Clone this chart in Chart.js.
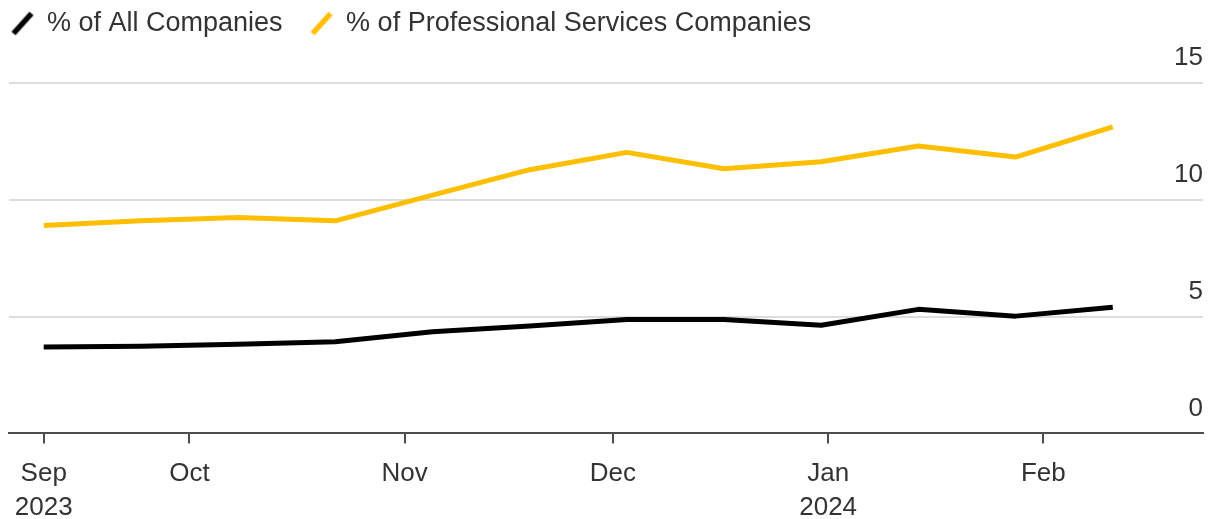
<!DOCTYPE html>
<html><head><meta charset="utf-8">
<script src="https://cdn.jsdelivr.net/npm/chart.js@4"></script>
<style>html,body{margin:0;padding:0;background:#fff;} canvas{display:block}</style>
</head><body>
<canvas id="c" width="1211" height="519"></canvas>
<script>
const dates = ['2023-09-10','2023-09-24','2023-10-08','2023-10-22','2023-11-05','2023-11-19','2023-12-03','2023-12-17','2023-12-31','2024-01-14','2024-01-28','2024-02-11'];
const allCompanies = [3.70,3.73,3.82,3.92,4.35,4.60,4.88,4.88,4.63,5.31,5.02,5.40];
const proServices = [8.90,9.10,9.24,9.10,10.20,11.29,12.03,11.33,11.63,12.30,11.83,13.12];
const seriesNames = ['% of All Companies','% of Professional Services Companies'];
const seriesColors = ['#000000','#ffbe00'];
const tickDates = ['2023-09-10','2023-10-01','2023-11-01','2023-12-01','2024-01-01','2024-02-01'];
const tickLabels = [['Sep','2023'],'Oct','Nov','Dec',['Jan','2024'],'Feb'];
const yTicks = [0,5,10,15];
const xRange = ['2023-09-05','2024-02-24'];

const ORIGIN = Date.parse('2023-09-01');
const dayNum = s => Math.round((Date.parse(s) - ORIGIN) / 86400000);
const tickDays = tickDates.map(dayNum);

function slashMarker(color){
  const c = document.createElement('canvas');
  c.width = 24; c.height = 26;
  const g = c.getContext('2d');
  g.strokeStyle = color; g.lineWidth = 5.5; g.lineCap = 'butt';
  g.beginPath(); g.moveTo(3, 23); g.lineTo(21, 3); g.stroke();
  return c;
}

const legendShift = {
  id: 'legendShift',
  afterLayout(chart){
    const lg = chart.legend;
    if (lg) { lg.left -= 25.5; lg.right -= 25.5; lg.top -= 36; lg.bottom -= 36; }
  }
};

const mk = (vals, i) => ({
  label: seriesNames[i],
  data: dates.map((d, k) => ({x: dayNum(d), y: vals[k]})),
  borderColor: seriesColors[i],
  backgroundColor: seriesColors[i],
  borderWidth: 5,
  pointRadius: 0,
  pointStyle: slashMarker(seriesColors[i]),
  tension: 0,
  fill: false,
  borderJoinStyle: 'round',
  borderCapStyle: 'butt'
});

new Chart(document.getElementById('c'), {
  type: 'line',
  data: { datasets: [mk(allCompanies, 0), mk(proServices, 1)] },
  options: {
    responsive: false,
    animation: false,
    layout: { padding: { left: 9, right: 8, top: 18, bottom: -20 } },
    plugins: {
      legend: {
        display: true, position: 'top', align: 'start',
        labels: {
          usePointStyle: true, pointStyleWidth: 22,
          font: { family: 'Liberation Sans, Arial, sans-serif', size: 27 },
          color: '#333', padding: 28
        }
      },
      tooltip: { enabled: false }
    },
    scales: {
      x: {
        type: 'linear',
        min: dayNum(xRange[0]), max: dayNum(xRange[1]),
        afterBuildTicks: ax => { ax.ticks = tickDays.map(v => ({value: v})); },
        grid: { drawOnChartArea: false, drawTicks: true, tickLength: 10, color: '#4d4d4d', lineWidth: 2 },
        border: { display: true, color: '#4d4d4d', width: 2 },
        ticks: {
          autoSkip: false, maxRotation: 0, minRotation: 0, padding: 14,
          font: { family: 'Liberation Sans, Arial, sans-serif', size: 26, lineHeight: 1.3 },
          color: '#333',
          callback: v => { const i = tickDays.indexOf(v); return i >= 0 ? tickLabels[i] : ''; }
        }
      },
      y: {
        position: 'right', min: 0, max: 15,
        afterBuildTicks: ax => { ax.ticks = yTicks.map(v => ({value: v})); },
        grid: { color: '#dddddd', lineWidth: 2, drawTicks: false },
        border: { display: false },
        ticks: {
          mirror: true, padding: 0, labelOffset: -25,
          font: { family: 'Liberation Sans, Arial, sans-serif', size: 26 },
          color: '#333'
        }
      }
    }
  },
  plugins: [legendShift]
});
</script>
</body></html>
